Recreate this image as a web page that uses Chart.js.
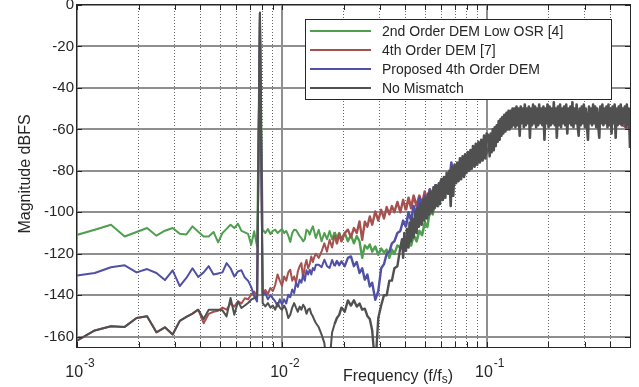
<!DOCTYPE html>
<html>
<head>
<meta charset="utf-8">
<title>DEM output spectrum</title>
<script src="https://cdn.jsdelivr.net/npm/chart.js@4.4.1/dist/chart.umd.min.js"></script>
<style>
  html, body { margin: 0; padding: 0; background: #fff; }
  #wrap { width: 639px; height: 387px; }
</style>
</head>
<body>
<div id="wrap"><canvas id="psdChart" width="639" height="387"></canvas></div>
<script>
// Output spectrum of three DEM variants vs. the ideal DAC, log frequency axis

const NFFT = 4096;              // FFT length: bin / NFFT = f/fs
const X_MIN = 0.001, X_MAX = 0.5;
const Y_MIN = -165, Y_MAX = 0;
const FONT = '"Liberation Sans", Arial, Helvetica, sans-serif';
const TEXT = '#262626';
const MAJOR_GRID = '#8f8f8f';
const MINOR_GRID = '#6a6a6a';

const seriesLabels = ['2nd Order DEM Low OSR [4]', '4th Order DEM [7]', 'Proposed 4th Order DEM', 'No Mismatch'];
const seriesColors = ['#4f9f4f', '#a65050', '#5050a6', '#505050'];

const yTicks = [-160, -140, -120, -100, -80, -60, -40, -20, 0];
const decadeTicks = [0.001, 0.01, 0.1];
const decadeExps = ['-3', '-2', '-1'];

// one point per FFT bin at the low end
const lowBins = [
  4, 5, 6, 7, 8, 9, 10, 11, 12, 13,
  14, 15, 16, 17, 18, 19, 20, 21, 22, 23,
  24, 25, 26, 27, 28, 29, 30, 31, 32, 33,
  34, 35, 36, 37, 38, 39, 40, 41, 42, 43,
  44, 45, 46, 47, 48, 49, 50, 51, 52, 53,
  54, 55, 56, 57, 58, 59, 60
];
// thinned bins in the middle (about one per 2-3 px)
const midBins = [
  62, 64, 66, 68, 70, 72, 74, 76, 78, 80,
  83, 86, 89, 92, 95, 98, 101, 104, 107, 110,
  113, 117, 121, 125, 129, 133, 137, 141, 145, 150,
  155
];
// rising part, coloured traces
const riseBins = [
  160, 165, 170, 175, 180, 186, 192, 198, 204,
  210, 216, 223, 230, 237, 244, 251, 259, 267, 275,
  283, 292, 301, 310, 319, 329, 339, 349, 360, 371,
  382, 394, 406
];
// rising part, grey trace (denser, it sits on top)
const grayRiseBins = [
  158, 160, 162, 165, 167, 170, 172, 175, 177, 180,
  183, 186, 188, 191, 194, 197, 200, 203, 206, 209,
  212, 215, 218, 222, 225, 228, 232, 235, 239, 242,
  246, 250, 253, 257, 261, 265, 269, 273, 277, 281,
  285, 290, 294, 298, 303, 307, 312, 317, 321, 326,
  331, 336, 341, 346, 351, 357, 362, 368, 373, 379,
  385, 391, 397, 403, 409
];
// high band, only the grey trace is visible there (about one per px)
const highBins = [
  418, 423, 428, 433, 438, 443, 448, 453, 458, 463,
  468, 473, 478, 483, 488, 493, 499, 505, 511, 517,
  523, 529, 535, 541, 547, 553, 559, 565, 572, 579,
  586, 593, 600, 607, 614, 621, 628, 635, 642, 649,
  657, 665, 673, 681, 689, 697, 705, 713, 721, 729,
  738, 747, 756, 765, 774, 783, 792, 801, 810, 820,
  830, 840, 850, 860, 870, 880, 890, 900, 911, 922,
  933, 944, 955, 966, 977, 988, 1000, 1012, 1024, 1036,
  1048, 1060, 1072, 1085, 1098, 1111, 1124, 1137, 1150, 1163,
  1177, 1191, 1205, 1219, 1233, 1247, 1262, 1277, 1292, 1307,
  1322, 1337, 1353, 1369, 1385, 1401, 1417, 1433, 1450, 1467,
  1484, 1501, 1518, 1536, 1554, 1572, 1590, 1608, 1627, 1646,
  1665, 1684, 1703, 1723, 1743, 1763, 1783, 1804, 1825, 1846,
  1867, 1888, 1910, 1932, 1954, 1976, 1998, 2021, 2048
];
// coarse tail for the coloured traces (hidden under the grey one)
const tailBins = [430, 480, 560, 700, 900, 1200, 1600, 2048];

// 2nd order DEM low OSR
const greenLow = [
  -111.2, -108.4, -106.0, -111.7, -109.5, -107.6, -111.3, -108.9, -107.6, -110.4,
  -110.7, -106.8, -109.4, -111.7, -111.7, -109.5, -114.5, -110.0, -108.0, -106.0,
  -107.6, -105.5, -109.0, -109.7, -110.4, -115.7, -109.2, -116.5, -3.7, -108.4,
  -110.0, -108.1, -110.5, -109.0, -108.4, -110.0, -109.0, -108.0, -110.0, -109.0,
  -111.3, -114.3, -110.0, -108.4, -108.5, -110.0, -111.5, -112.5, -114.0, -113.0,
  -108.4, -109.0, -110.8, -108.5, -106.8, -109.5, -112.4
];
const greenMid = [
  -108.5, -114.0, -110.0, -113.0, -109.0, -113.0, -109.5, -112.5, -110.0, -113.0,
  -110.0, -114.0, -111.0, -115.0, -111.5, -114.0, -122.0, -116.0, -117.5, -115.5,
  -119.0, -116.5, -120.5, -117.5, -119.5, -118.0, -122.0, -118.0, -120.0, -116.0,
  -117.0
];
const greenRise = [
  -115.0, -117.0, -113.0, -116.0, -111.0, -114.0, -109.0, -111.0, -105.0,
  -107.0, -99.0, -101.0, -94.0, -97.0, -89.0, -93.0, -86.0, -90.0, -83.0,
  -87.0, -81.0, -84.0, -78.0, -82.0, -76.0, -79.0, -74.0, -77.0, -72.0,
  -75.0, -69.0, -72.0
];
const greenTail = [-67, -60, -55, -54, -54, -55, -54, -56];

// 4th order DEM [7]
const redLow = [
  -162.5, -157.0, -155.0, -155.3, -151.0, -150.2, -157.9, -155.5, -159.0, -152.4,
  -150.5, -148.9, -147.0, -153.5, -149.0, -148.0, -147.5, -146.0, -147.0, -144.0,
  -145.5, -143.0, -144.0, -141.5, -142.0, -139.8, -138.2, -141.0, -3.7, -140.0,
  -137.5, -139.5, -136.5, -138.0, -135.0, -130.0, -133.0, -135.5, -131.0, -133.0,
  -129.0, -127.7, -133.0, -131.0, -134.0, -128.5, -126.0, -124.5, -132.0, -126.0,
  -123.0, -127.0, -125.0, -121.3, -124.0, -121.5, -120.0
];
const redMid = [
  -122.0, -118.9, -115.0, -119.0, -113.3, -117.0, -111.0, -115.0, -110.5, -114.0,
  -110.0, -108.4, -112.0, -107.6, -110.0, -104.4, -113.3, -104.5, -107.0, -102.0,
  -106.0, -99.6, -104.0, -98.8, -103.0, -97.5, -101.0, -97.0, -100.0, -95.0,
  -100.0
];
const redRise = [
  -94.0, -99.0, -93.0, -98.0, -92.0, -97.0, -92.0, -96.0, -90.0,
  -95.0, -89.0, -93.0, -87.0, -92.0, -86.0, -90.0, -84.0, -88.0, -82.0,
  -86.0, -79.0, -82.0, -76.0, -80.0, -74.0, -78.0, -72.0, -76.0, -70.0,
  -74.0, -67.0, -71.0
];
const redTail = [-68, -59, -55, -54, -55, -54, -54, -60];

// proposed 4th order DEM
const blueLow = [
  -130.6, -129.3, -126.5, -125.6, -129.0, -127.4, -129.3, -132.7, -128.0, -135.6,
  -131.7, -127.0, -131.2, -129.0, -126.0, -130.0, -129.5, -129.0, -124.5, -127.0,
  -131.0, -128.5, -128.0, -131.5, -133.0, -136.0, -140.5, -143.0, -3.7, -140.0,
  -139.0, -142.0, -140.0, -141.5, -143.0, -145.4, -142.0, -144.6, -142.0, -144.0,
  -139.8, -141.0, -137.3, -139.0, -134.0, -136.0, -132.5, -134.0, -130.1, -133.0,
  -128.0, -130.0, -127.7, -130.0, -126.9, -128.0, -125.3
];
const blueMid = [
  -125.3, -126.5, -122.9, -126.0, -126.9, -123.0, -126.0, -123.5, -125.5, -123.7,
  -126.0, -122.0, -121.3, -126.0, -124.0, -129.3, -127.0, -132.5, -130.0, -135.8,
  -134.0, -142.2, -138.0, -127.0, -125.0, -120.0, -119.0, -115.0, -114.0, -110.0,
  -109.0
];
const blueRise = [
  -104.0, -107.0, -100.0, -104.0, -97.0, -101.0, -93.0, -99.0, -92.0,
  -96.0, -89.0, -94.0, -87.0, -93.0, -85.0, -91.0, -83.0, -89.0, -76.0,
  -86.0, -80.0, -84.0, -77.0, -81.0, -75.0, -79.0, -73.0, -77.0, -71.0,
  -75.0, -68.0, -72.0
];
const blueTail = [-66, -60, -56, -54, -54, -55, -54, -58];

// no mismatch
const grayLow = [
  -162.5, -157.0, -155.0, -155.3, -151.0, -150.2, -157.9, -155.5, -159.0, -152.4,
  -150.5, -148.9, -147.0, -151.5, -147.0, -147.0, -147.0, -147.3, -150.2, -141.4,
  -149.4, -143.0, -146.2, -145.0, -143.8, -142.2, -141.4, -140.6, -3.7, -143.8,
  -145.4, -143.8, -146.0, -145.0, -147.0, -143.8, -146.0, -147.0, -145.0, -147.0,
  -151.0, -149.4, -146.0, -143.8, -146.0, -148.0, -145.5, -147.0, -144.6, -146.0,
  -149.0, -147.0, -146.5, -149.0, -150.2, -152.0, -153.4
];
const grayMid = [
  -155.5, -159.0, -163.0, -175.0, -172.0, -158.0, -154.0, -151.0, -149.5, -146.0,
  -148.0, -142.5, -145.0, -142.5, -145.5, -144.0, -147.0, -146.5, -150.0, -151.5,
  -157.0, -175.0, -151.0, -145.0, -140.0, -140.0, -133.0, -133.0, -127.0, -126.0,
  -117.0
];
const grayRise = [
  -113, -122, -110, -119, -108, -117, -105, -114, -103, -112,
  -100, -110, -98, -107, -96, -106, -94, -104, -93, -103,
  -91, -101, -90, -100, -88, -98, -87, -97, -86, -96,
  -84, -94, -83, -93, -81, -91, -80, -97, -78, -92,
  -77, -86, -76, -85, -74, -84, -73, -83, -72, -81,
  -71, -80, -70, -79, -68, -78, -67, -77, -66, -76,
  -65, -75, -63, -74, -62
];
const grayHigh = [
  -63, -73, -62, -71, -60, -70, -59, -68, -58, -66,
  -56, -65, -55, -63, -54, -62, -53, -61, -52, -60,
  -51, -60, -51, -59, -50, -58, -50, -59, -49, -58,
  -50, -63, -49, -57, -50, -59, -48, -58, -50, -57,
  -49, -64, -50, -58, -48, -57, -49, -59, -50, -58,
  -48, -57, -50, -58, -49, -65, -50, -57, -48, -59,
  -49, -58, -50, -57, -47, -58, -50, -64, -49, -58,
  -48, -59, -50, -57, -49, -58, -48, -62, -50, -57,
  -49, -58, -47, -59, -50, -57, -48, -58, -63, -50,
  -58, -49, -57, -48, -59, -50, -58, -65, -49, -57,
  -50, -58, -48, -57, -49, -59, -50, -58, -64, -49,
  -57, -48, -58, -50, -57, -49, -59, -48, -58, -50,
  -62, -49, -57, -48, -64, -50, -58, -49, -57, -48,
  -58, -50, -57, -49, -59, -48, -58, -50, -69
];

function toPoints(bins, values) {
  return bins.map((b, i) => ({ x: b / NFFT, y: values[i] }));
}

const colouredBins = lowBins.concat(midBins, riseBins, tailBins);
const grayBins = lowBins.concat(midBins, grayRiseBins, highBins);
const seriesData = [
  toPoints(colouredBins, greenLow.concat(greenMid, greenRise, greenTail)),
  toPoints(colouredBins, redLow.concat(redMid, redRise, redTail)),
  toPoints(colouredBins, blueLow.concat(blueMid, blueRise, blueTail)),
  toPoints(grayBins, grayLow.concat(grayMid, grayRise, grayHigh))
];

// decade lines solid, 2..9 dotted
function xGridTicks() {
  const ticks = [];
  decadeTicks.forEach(d => {
    for (let m = 1; m <= 9; m++) {
      const v = d * m;
      if (v <= X_MAX * 1.0001) ticks.push({ value: v, major: m === 1 });
    }
  });
  return ticks;
}
const isMajor = c => !!(c.tick && c.tick.major);

// dense noisy part of the spectrum drawn a bit heavier
function segmentWidth(c) {
  const xs = c.chart.scales.x;
  if (c.p0.x >= xs.getPixelForValue(0.04)) return 2.6;
  if (c.p0.x >= xs.getPixelForValue(0.018)) return 2.4;
  return 2;
}

// axes box, inward ticks, exponent tick labels, titles and boxed legend
const framePlugin = {
  id: 'frame',
  afterDraw(chart) {
    const { ctx, chartArea: a, scales: { x, y } } = chart;
    ctx.save();

    ctx.strokeStyle = TEXT;
    ctx.lineWidth = 1;
    ctx.strokeRect(a.left - 0.5, a.top - 0.5, a.right - a.left + 1, a.bottom - a.top + 1);
    ctx.beginPath();
    x.ticks.forEach(t => {
      const px = Math.round(x.getPixelForValue(t.value)) + 0.5;
      ctx.moveTo(px, a.bottom); ctx.lineTo(px, a.bottom - 5);
      ctx.moveTo(px, a.top); ctx.lineTo(px, a.top + 5);
    });
    y.ticks.forEach(t => {
      const py = Math.round(y.getPixelForValue(t.value)) + 0.5;
      ctx.moveTo(a.left, py); ctx.lineTo(a.left + 5, py);
      ctx.moveTo(a.right, py); ctx.lineTo(a.right - 5, py);
    });
    ctx.stroke();

    // 10^k labels
    ctx.fillStyle = TEXT;
    ctx.textAlign = 'left';
    ctx.textBaseline = 'alphabetic';
    decadeTicks.forEach((v, i) => {
      ctx.font = '16px ' + FONT;
      const wBase = ctx.measureText('10').width;
      ctx.font = '12px ' + FONT;
      const wExp = ctx.measureText(decadeExps[i]).width;
      const x0 = x.getPixelForValue(v) + 3 - (wBase + 1 + wExp) / 2;
      ctx.font = '16px ' + FONT;
      ctx.fillText('10', x0, 377);
      ctx.font = '12px ' + FONT;
      ctx.fillText(decadeExps[i], x0 + wBase + 1, 367);
    });

    // x title with subscript
    let tx = 343;
    ctx.font = '16px ' + FONT;
    ctx.fillText('Frequency (f/f', tx, 381);
    tx += ctx.measureText('Frequency (f/f').width;
    ctx.font = '12px ' + FONT;
    ctx.fillText('s', tx, 383);
    tx += ctx.measureText('s').width;
    ctx.font = '16px ' + FONT;
    ctx.fillText(')', tx, 381);

    // y title
    ctx.save();
    ctx.translate(30, 174);
    ctx.rotate(-Math.PI / 2);
    ctx.textAlign = 'center';
    ctx.fillText('Magnitude dBFS', 0, 0);
    ctx.restore();

    // legend
    const lx = 306, ly = 19, lw = 306, lh = 80;
    ctx.fillStyle = '#fff';
    ctx.fillRect(lx, ly, lw, lh);
    ctx.strokeStyle = TEXT;
    ctx.lineWidth = 1;
    ctx.strokeRect(lx - 0.5, ly + 0.5, lw, lh);
    ctx.font = '14px ' + FONT;
    ctx.textBaseline = 'middle';
    chart.data.datasets.forEach((ds, i) => {
      const ry = 31 + i * 19;
      ctx.strokeStyle = ds.borderColor;
      ctx.lineWidth = 2;
      ctx.beginPath();
      ctx.moveTo(310, ry); ctx.lineTo(371, ry);
      ctx.stroke();
      ctx.fillStyle = TEXT;
      ctx.fillText(ds.label, 382, ry + 1);
    });
    ctx.restore();
  }
};

const ctx = document.getElementById('psdChart').getContext('2d');
new Chart(ctx, {
  type: 'line',
  data: {
    datasets: seriesData.map((pts, i) => ({
      label: seriesLabels[i],
      data: pts,
      borderColor: seriesColors[i],
      borderWidth: 2,
      pointRadius: 0,
      tension: 0,
      fill: false,
      clip: 0,
      borderJoinStyle: 'round',
      segment: { borderWidth: segmentWidth },
      order: 4 - i            // grey drawn last, on top
    }))
  },
  options: {
    responsive: false,
    animation: false,
    events: [],
    layout: { padding: { top: 5, right: 9, bottom: 0, left: 0 } },
    plugins: { legend: { display: false }, tooltip: { enabled: false } },
    scales: {
      x: {
        type: 'logarithmic',
        min: X_MIN,
        max: X_MAX,
        afterBuildTicks: s => { s.ticks = xGridTicks(); },
        afterFit: s => { s.height = 40; s.paddingLeft = 0; s.paddingRight = 0; },
        ticks: { display: false },
        grid: {
          color: c => isMajor(c) ? MAJOR_GRID : MINOR_GRID,
          lineWidth: c => isMajor(c) ? 2 : 1,
          drawTicks: false
        },
        border: { display: false, dash: c => isMajor(c) ? [] : [1, 2] }
      },
      y: {
        min: Y_MIN,
        max: Y_MAX,
        afterBuildTicks: s => { s.ticks = yTicks.map(v => ({ value: v })); },
        afterFit: s => { s.width = 77; s.paddingTop = 0; s.paddingBottom = 0; },
        ticks: { padding: 3, color: TEXT, font: { family: FONT, size: 15 } },
        grid: { color: MAJOR_GRID, lineWidth: 2, drawTicks: false },
        border: { display: false }
      }
    }
  },
  plugins: [framePlugin]
});
</script>
</body>
</html>
